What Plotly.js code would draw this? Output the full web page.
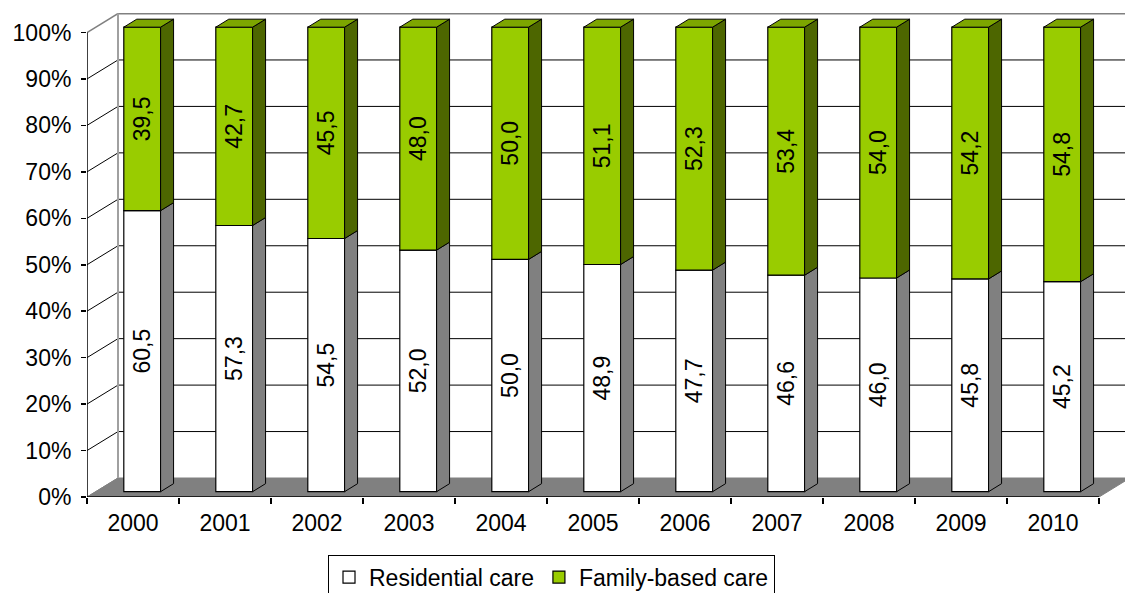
<!DOCTYPE html>
<html>
<head>
<meta charset="utf-8">
<script src="https://cdn.plot.ly/plotly-3.0.1.min.js"></script>
<style>
  html, body { margin: 0; padding: 0; background: #ffffff; }
  #chart { width: 1125px; height: 593px; }
</style>
</head>
<body>
<div id="chart"></div>
<script>
// Share of children in care by type of placement, 2000-2010 (%)
const years = [2000, 2001, 2002, 2003, 2004, 2005, 2006, 2007, 2008, 2009, 2010];
const residential = [60.5, 57.3, 54.5, 52.0, 50.0, 48.9, 47.7, 46.6, 46.0, 45.8, 45.2];
const familyBased = [39.5, 42.7, 45.5, 48.0, 50.0, 51.1, 52.3, 53.4, 54.0, 54.2, 54.8];
const yTickVals = [0, 10, 20, 30, 40, 50, 60, 70, 80, 90, 100];
const yTickText = yTickVals.map(v => v + '%');

// 3-D look, expressed in axis units (x: one year slot, y: percent)
const WALL_DX = 0.337;   // depth of the floor / side wall, horizontally
const WALL_DY = 4.09;    // depth of the floor / side wall, vertically
const BAR_OFF = -0.1;    // front face start relative to the slot centre
const BAR_W = 0.40;      // front face width
const BAR_BASE = 1.15;   // columns stand slightly behind the front edge
const BAR_DX = 0.141;    // column depth, horizontally
const BAR_DY = 1.72;     // column depth, vertically

const X_MIN = years[0] - 0.5;
const X_EDGE = years[years.length - 1] + 0.5;
const X_MAX = X_MIN + 1038 / 92;
const Y_MAX = 104.2;

const FONT = 'Liberation Sans, Arial, sans-serif';
const fmt = v => v.toFixed(1).replace('.', ',');

const GREEN = '#99CC00', GREEN_SIDE = '#4D6600', GREEN_TOP = '#7DA600';
const GREY = '#808080';

const poly = pts => 'M' + pts.map(p => p[0] + ',' + p[1]).join(' L') + ' Z';

const shapes = [];

// floor
shapes.push({
  type: 'path', layer: 'below', xref: 'x', yref: 'y',
  path: poly([[X_MIN, 0], [X_EDGE, 0], [X_EDGE + WALL_DX, WALL_DY], [X_MIN + WALL_DX, WALL_DY]]),
  fillcolor: GREY, line: { color: GREY, width: 1 }
});

// back wall gridlines and side wall diagonals
yTickVals.forEach(v => {
  if (v === 0) return;
  const col = v === 100 ? GREY : '#000000';
  const w = v === 100 ? 2 : 1;
  shapes.push({
    type: 'line', layer: 'below', xref: 'x', yref: 'y',
    x0: X_MIN + WALL_DX, x1: X_MAX, y0: v + WALL_DY, y1: v + WALL_DY,
    line: { color: col, width: w }
  });
  shapes.push({
    type: 'line', layer: 'below', xref: 'x', yref: 'y',
    x0: X_MIN, x1: X_MIN + WALL_DX, y0: v, y1: v + WALL_DY,
    line: { color: col, width: v === 100 ? 1.5 : 1 }
  });
});
// floor / side wall edge
shapes.push({
  type: 'line', layer: 'below', xref: 'x', yref: 'y',
  x0: X_MIN, x1: X_MIN + WALL_DX, y0: 0, y1: WALL_DY,
  line: { color: GREY, width: 1 }
});
// back wall left edge
shapes.push({
  type: 'line', layer: 'below', xref: 'x', yref: 'y',
  x0: X_MIN + WALL_DX, x1: X_MIN + WALL_DX, y0: WALL_DY, y1: 100 + WALL_DY,
  line: { color: '#A0A0A0', width: 2 }
});
// front axis lines
shapes.push({
  type: 'line', layer: 'above', xref: 'x', yref: 'y',
  x0: X_MIN, x1: X_MIN, y0: 0, y1: 100,
  line: { color: '#000000', width: 1.5 }
});
shapes.push({
  type: 'line', layer: 'below', xref: 'x', yref: 'y',
  x0: X_MIN, x1: X_EDGE, y0: 0, y1: 0,
  line: { color: '#000000', width: 1.5 }
});

// column sides and tops
years.forEach((yr, i) => {
  const x1 = yr + BAR_OFF + BAR_W;
  const x0 = yr + BAR_OFF;
  const b = BAR_BASE;
  const m = BAR_BASE + residential[i];
  const t = m + familyBased[i];
  shapes.push({
    type: 'path', layer: 'above', xref: 'x', yref: 'y',
    path: poly([[x1, b], [x1 + BAR_DX, b + BAR_DY], [x1 + BAR_DX, m + BAR_DY], [x1, m]]),
    fillcolor: GREY, line: { color: '#000000', width: 1 }
  });
  shapes.push({
    type: 'path', layer: 'above', xref: 'x', yref: 'y',
    path: poly([[x1, m], [x1 + BAR_DX, m + BAR_DY], [x1 + BAR_DX, t + BAR_DY], [x1, t]]),
    fillcolor: GREEN_SIDE, line: { color: '#000000', width: 1 }
  });
  shapes.push({
    type: 'path', layer: 'above', xref: 'x', yref: 'y',
    path: poly([[x0, t], [x1, t], [x1 + BAR_DX, t + BAR_DY], [x0 + BAR_DX, t + BAR_DY]]),
    fillcolor: GREEN_TOP, line: { color: '#000000', width: 1 }
  });
});

const barCommon = {
  type: 'bar', x: years, offset: BAR_OFF, width: BAR_W,
  textposition: 'inside', insidetextanchor: 'middle', textangle: -90,
  constraintext: 'none', cliponaxis: false,
  textfont: { family: FONT, size: 23, color: '#000000' },
  hoverinfo: 'skip'
};

const traces = [
  Object.assign({}, barCommon, {
    name: 'Residential care',
    y: residential,
    base: residential.map(() => BAR_BASE),
    text: residential.map(fmt),
    marker: { color: '#FFFFFF', line: { color: '#000000', width: 1.2 } }
  }),
  Object.assign({}, barCommon, {
    name: 'Family-based care',
    y: familyBased,
    base: residential.map(r => BAR_BASE + r),
    text: familyBased.map(fmt),
    marker: { color: GREEN, line: { color: '#000000', width: 1.2 } }
  })
];

const layout = {
  width: 1125, height: 593, autosize: false,
  margin: { l: 87, r: 0, t: 13, b: 96, pad: 0, autoexpand: false },
  paper_bgcolor: '#FFFFFF', plot_bgcolor: '#FFFFFF',
  barmode: 'overlay',
  hovermode: false,
  font: { family: FONT, size: 22, color: '#000000' },
  showlegend: true,
  legend: {
    orientation: 'h', x: 0.4475, xanchor: 'center', y: -0.119, yanchor: 'top',
    bordercolor: '#000000', borderwidth: 1, bgcolor: '#FFFFFF',
    font: { family: FONT, size: 23, color: '#000000' },
    itemwidth: 30, traceorder: 'normal'
  },
  xaxis: {
    type: 'linear', range: [X_MIN, X_MAX], fixedrange: true,
    tickmode: 'array', tickvals: years, ticktext: years.map(String),
    ticks: '', showgrid: false, zeroline: false, showline: false,
    tickfont: { family: FONT, size: 23, color: '#000000' },
    ticklabelstandoff: 10,
    minor: {
      tickmode: 'array',
      tickvals: years.map(y => y - 0.5).concat([X_EDGE]),
      ticks: 'outside', ticklen: 6, tickwidth: 1.5, tickcolor: '#000000', showgrid: false
    }
  },
  yaxis: {
    range: [0, Y_MAX], fixedrange: true,
    tickmode: 'array', tickvals: yTickVals, ticktext: yTickText,
    ticks: 'outside', ticklen: 5, tickwidth: 1.5, tickcolor: '#000000',
    showgrid: false, zeroline: false, showline: false,
    tickfont: { family: FONT, size: 23, color: '#000000' },
    ticklabelstandoff: 5
  },
  shapes: shapes
};

Plotly.newPlot('chart', traces, layout, { staticPlot: true, displayModeBar: false });
</script>
</body>
</html>
